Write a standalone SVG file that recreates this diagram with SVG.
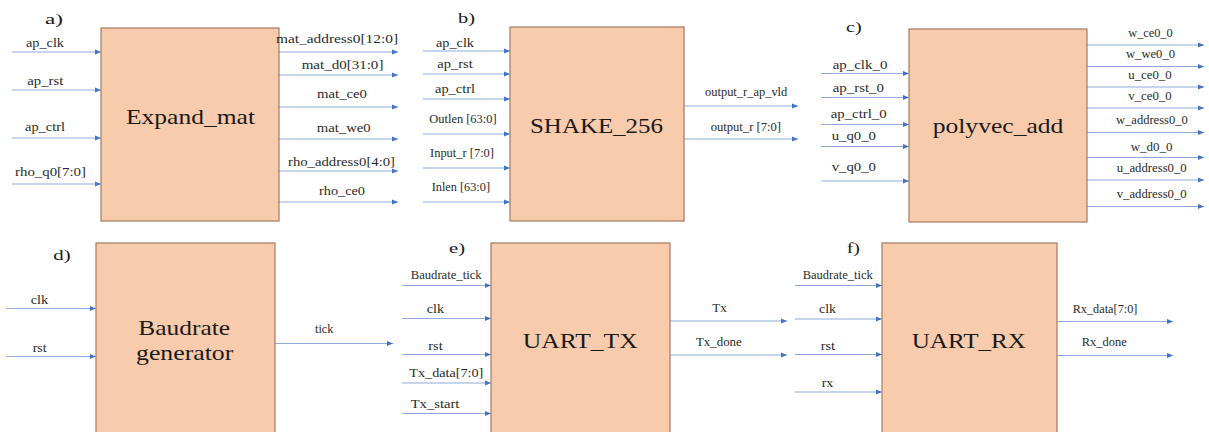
<svg xmlns="http://www.w3.org/2000/svg" width="1209" height="432" viewBox="0 0 1209 432">
<style>
.box{fill:#F7CBAC;stroke:#A57A60;stroke-width:1.2}
.t{font-family:"Liberation Serif","Times New Roman",serif;fill:#1a1a1a}
.big{font-size:22px}
.lbl{font-size:12px;fill:#2a2a2a}
.ttl{font-size:15px}
.w{stroke:#8EAADB;stroke-width:1.2;fill:none;marker-end:url(#ah)}
</style>
<defs>
<marker id="ah" markerUnits="userSpaceOnUse" markerWidth="7" markerHeight="6" refX="6" refY="3" orient="auto">
<path d="M0,0.5 L6,3 L0,5.5 z" fill="#4472C4"/>
</marker>
</defs>
<rect width="1209" height="432" fill="#fff"/>

<g id="connectors">
<!-- a -->
<line class="w" x1="12" y1="52" x2="101" y2="52"/>
<line class="w" x1="12" y1="90" x2="101" y2="90"/>
<line class="w" x1="12" y1="138" x2="101" y2="138"/>
<line class="w" x1="12" y1="184" x2="101" y2="184"/>
<line class="w" x1="279" y1="52" x2="398" y2="52"/>
<line class="w" x1="279" y1="75" x2="398" y2="75"/>
<line class="w" x1="279" y1="107" x2="398" y2="107"/>
<line class="w" x1="279" y1="139" x2="398" y2="139"/>
<line class="w" x1="279" y1="171" x2="398" y2="171"/>
<line class="w" x1="279" y1="202" x2="398" y2="202"/>
<!-- b -->
<line class="w" x1="423" y1="51" x2="510" y2="51"/>
<line class="w" x1="423" y1="74" x2="510" y2="74"/>
<line class="w" x1="423" y1="99" x2="510" y2="99"/>
<line class="w" x1="423" y1="134" x2="510" y2="134"/>
<line class="w" x1="423" y1="168" x2="510" y2="168"/>
<line class="w" x1="423" y1="202" x2="510" y2="202"/>
<line class="w" x1="684" y1="106" x2="798" y2="106"/>
<line class="w" x1="684" y1="139" x2="798" y2="139"/>
<!-- c -->
<line class="w" x1="821" y1="73.5" x2="909" y2="73.5"/>
<line class="w" x1="821" y1="97.5" x2="909" y2="97.5"/>
<line class="w" x1="821" y1="124.5" x2="909" y2="124.5"/>
<line class="w" x1="821" y1="146.5" x2="909" y2="146.5"/>
<line class="w" x1="821" y1="181" x2="909" y2="181"/>
<line class="w" x1="1087" y1="45" x2="1204" y2="45"/>
<line class="w" x1="1087" y1="66.5" x2="1204" y2="66.5"/>
<line class="w" x1="1087" y1="87" x2="1204" y2="87"/>
<line class="w" x1="1087" y1="108" x2="1204" y2="108"/>
<line class="w" x1="1087" y1="132.5" x2="1204" y2="132.5"/>
<line class="w" x1="1087" y1="157.5" x2="1204" y2="157.5"/>
<line class="w" x1="1087" y1="180" x2="1204" y2="180"/>
<line class="w" x1="1087" y1="206.5" x2="1204" y2="206.5"/>
<!-- d -->
<line class="w" x1="6" y1="308.5" x2="96" y2="308.5"/>
<line class="w" x1="6" y1="356.5" x2="96" y2="356.5"/>
<line class="w" x1="275" y1="343.5" x2="393" y2="343.5"/>
<!-- e -->
<line class="w" x1="402" y1="285.5" x2="491" y2="285.5"/>
<line class="w" x1="402" y1="318.5" x2="491" y2="318.5"/>
<line class="w" x1="402" y1="354.5" x2="491" y2="354.5"/>
<line class="w" x1="402" y1="383" x2="491" y2="383"/>
<line class="w" x1="402" y1="413.5" x2="491" y2="413.5"/>
<line class="w" x1="670" y1="321" x2="787" y2="321"/>
<line class="w" x1="670" y1="355" x2="787" y2="355"/>
<!-- f -->
<line class="w" x1="795" y1="285.5" x2="882" y2="285.5"/>
<line class="w" x1="795" y1="319" x2="882" y2="319"/>
<line class="w" x1="795" y1="354.5" x2="882" y2="354.5"/>
<line class="w" x1="795" y1="392" x2="882" y2="392"/>
<line class="w" x1="1057" y1="321.5" x2="1173" y2="321.5"/>
<line class="w" x1="1057" y1="355.5" x2="1173" y2="355.5"/>
</g>

<g id="node-expand-mat">
<rect class="box" x="101" y="28" width="178" height="193"/>
<text class="t ttl" x="45" y="24" textLength="18" lengthAdjust="spacingAndGlyphs">a)</text>
<text class="t big" x="126" y="124" textLength="129" lengthAdjust="spacingAndGlyphs">Expand_mat</text>
<text class="t lbl" x="26" y="47" textLength="38" lengthAdjust="spacingAndGlyphs">ap_clk</text>
<text class="t lbl" x="27.3" y="85" textLength="36" lengthAdjust="spacingAndGlyphs">ap_rst</text>
<text class="t lbl" x="25" y="131" textLength="40" lengthAdjust="spacingAndGlyphs">ap_ctrl</text>
<text class="t lbl" x="15" y="176" textLength="71" lengthAdjust="spacingAndGlyphs">rho_q0[7:0]</text>
<text class="t lbl" x="276" y="43" textLength="122" lengthAdjust="spacingAndGlyphs">mat_address0[12:0]</text>
<text class="t lbl" x="301.7" y="69" textLength="81.7" lengthAdjust="spacingAndGlyphs">mat_d0[31:0]</text>
<text class="t lbl" x="317" y="98" textLength="50" lengthAdjust="spacingAndGlyphs">mat_ce0</text>
<text class="t lbl" x="316.7" y="131.5" textLength="54" lengthAdjust="spacingAndGlyphs">mat_we0</text>
<text class="t lbl" x="288" y="165.5" textLength="107" lengthAdjust="spacingAndGlyphs">rho_address0[4:0]</text>
<text class="t lbl" x="319" y="195" textLength="46" lengthAdjust="spacingAndGlyphs">rho_ce0</text>
</g>

<g id="node-shake-256">
<rect class="box" x="510" y="27" width="174" height="194"/>
<text class="t ttl" x="458" y="23" textLength="17" lengthAdjust="spacingAndGlyphs">b)</text>
<text class="t big" x="530" y="132.7" textLength="133" lengthAdjust="spacingAndGlyphs">SHAKE_256</text>
<text class="t lbl" x="436" y="46.5" textLength="38" lengthAdjust="spacingAndGlyphs">ap_clk</text>
<text class="t lbl" x="437.3" y="68.3" textLength="35.4" lengthAdjust="spacingAndGlyphs">ap_rst</text>
<text class="t lbl" x="435" y="92.7" textLength="40" lengthAdjust="spacingAndGlyphs">ap_ctrl</text>
<text class="t lbl" x="429.3" y="122.7" textLength="67.3" lengthAdjust="spacingAndGlyphs">Outlen [63:0]</text>
<text class="t lbl" x="430" y="156.7" textLength="64" lengthAdjust="spacingAndGlyphs">Input_r [7:0]</text>
<text class="t lbl" x="431.7" y="190.7" textLength="58.3" lengthAdjust="spacingAndGlyphs">Inlen [63:0]</text>
<text class="t lbl" x="705" y="96" textLength="82.3" lengthAdjust="spacingAndGlyphs">output_r_ap_vld</text>
<text class="t lbl" x="710.7" y="131" textLength="70.3" lengthAdjust="spacingAndGlyphs">output_r [7:0]</text>
</g>

<g id="node-polyvec-add">
<rect class="box" x="909" y="29" width="178" height="193"/>
<text class="t ttl" x="846" y="31.7" textLength="15.7" lengthAdjust="spacingAndGlyphs">c)</text>
<text class="t big" x="932.7" y="132.7" textLength="130.7" lengthAdjust="spacingAndGlyphs">polyvec_add</text>
<text class="t lbl" x="832.7" y="69" textLength="54.7" lengthAdjust="spacingAndGlyphs">ap_clk_0</text>
<text class="t lbl" x="832.7" y="92.3" textLength="51.3" lengthAdjust="spacingAndGlyphs">ap_rst_0</text>
<text class="t lbl" x="830.7" y="118.3" textLength="56" lengthAdjust="spacingAndGlyphs">ap_ctrl_0</text>
<text class="t lbl" x="831.7" y="140" textLength="44.3" lengthAdjust="spacingAndGlyphs">u_q0_0</text>
<text class="t lbl" x="831.7" y="171" textLength="44.3" lengthAdjust="spacingAndGlyphs">v_q0_0</text>
<text class="t lbl" x="1128.3" y="36.7" textLength="44.3" lengthAdjust="spacingAndGlyphs">w_ce0_0</text>
<text class="t lbl" x="1126" y="58.3" textLength="49" lengthAdjust="spacingAndGlyphs">w_we0_0</text>
<text class="t lbl" x="1128.3" y="79" textLength="43.3" lengthAdjust="spacingAndGlyphs">u_ce0_0</text>
<text class="t lbl" x="1128.3" y="100" textLength="43.3" lengthAdjust="spacingAndGlyphs">v_ce0_0</text>
<text class="t lbl" x="1116" y="124" textLength="71.7" lengthAdjust="spacingAndGlyphs">w_address0_0</text>
<text class="t lbl" x="1130.7" y="150.7" textLength="41.7" lengthAdjust="spacingAndGlyphs">w_d0_0</text>
<text class="t lbl" x="1116.7" y="171.7" textLength="70" lengthAdjust="spacingAndGlyphs">u_address0_0</text>
<text class="t lbl" x="1116.7" y="198.3" textLength="70" lengthAdjust="spacingAndGlyphs">v_address0_0</text>
</g>

<g id="node-baudrate-generator">
<rect class="box" x="96" y="243" width="179" height="200"/>
<text class="t ttl" x="53.3" y="260" textLength="17.4" lengthAdjust="spacingAndGlyphs">d)</text>
<text class="t big" x="138.3" y="335" textLength="91.7" lengthAdjust="spacingAndGlyphs">Baudrate</text>
<text class="t big" x="136" y="360" textLength="97.3" lengthAdjust="spacingAndGlyphs">generator</text>
<text class="t lbl" x="30.7" y="304.3" textLength="17.6" lengthAdjust="spacingAndGlyphs">clk</text>
<text class="t lbl" x="32.7" y="351.7" textLength="14" lengthAdjust="spacingAndGlyphs">rst</text>
<text class="t lbl" x="315" y="333.3" textLength="18.3" lengthAdjust="spacingAndGlyphs">tick</text>
</g>

<g id="node-uart-tx">
<rect class="box" x="491" y="243" width="179" height="200"/>
<text class="t ttl" x="449" y="253.3" textLength="16" lengthAdjust="spacingAndGlyphs">e)</text>
<text class="t big" x="522.7" y="348.3" textLength="115" lengthAdjust="spacingAndGlyphs">UART_TX</text>
<text class="t lbl" x="410.7" y="279" textLength="71" lengthAdjust="spacingAndGlyphs">Baudrate_tick</text>
<text class="t lbl" x="426.7" y="312.7" textLength="17.3" lengthAdjust="spacingAndGlyphs">clk</text>
<text class="t lbl" x="428.3" y="350" textLength="14.4" lengthAdjust="spacingAndGlyphs">rst</text>
<text class="t lbl" x="409.3" y="377.3" textLength="74" lengthAdjust="spacingAndGlyphs">Tx_data[7:0]</text>
<text class="t lbl" x="410.7" y="407.7" textLength="48.7" lengthAdjust="spacingAndGlyphs">Tx_start</text>
<text class="t lbl" x="712.3" y="311.7" textLength="14.4" lengthAdjust="spacingAndGlyphs">Tx</text>
<text class="t lbl" x="696" y="346" textLength="45.7" lengthAdjust="spacingAndGlyphs">Tx_done</text>
</g>

<g id="node-uart-rx">
<rect class="box" x="882" y="243" width="175" height="200"/>
<text class="t ttl" x="846.7" y="253.3" textLength="13.3" lengthAdjust="spacingAndGlyphs">f)</text>
<text class="t big" x="911.7" y="348.3" textLength="114.3" lengthAdjust="spacingAndGlyphs">UART_RX</text>
<text class="t lbl" x="802.7" y="279" textLength="70" lengthAdjust="spacingAndGlyphs">Baudrate_tick</text>
<text class="t lbl" x="819" y="313.3" textLength="17" lengthAdjust="spacingAndGlyphs">clk</text>
<text class="t lbl" x="820.7" y="350" textLength="14.3" lengthAdjust="spacingAndGlyphs">rst</text>
<text class="t lbl" x="821.7" y="386.7" textLength="11.6" lengthAdjust="spacingAndGlyphs">rx</text>
<text class="t lbl" x="1072.7" y="312.7" textLength="64.7" lengthAdjust="spacingAndGlyphs">Rx_data[7:0]</text>
<text class="t lbl" x="1081.7" y="346" textLength="45" lengthAdjust="spacingAndGlyphs">Rx_done</text>
</g>
</svg>
